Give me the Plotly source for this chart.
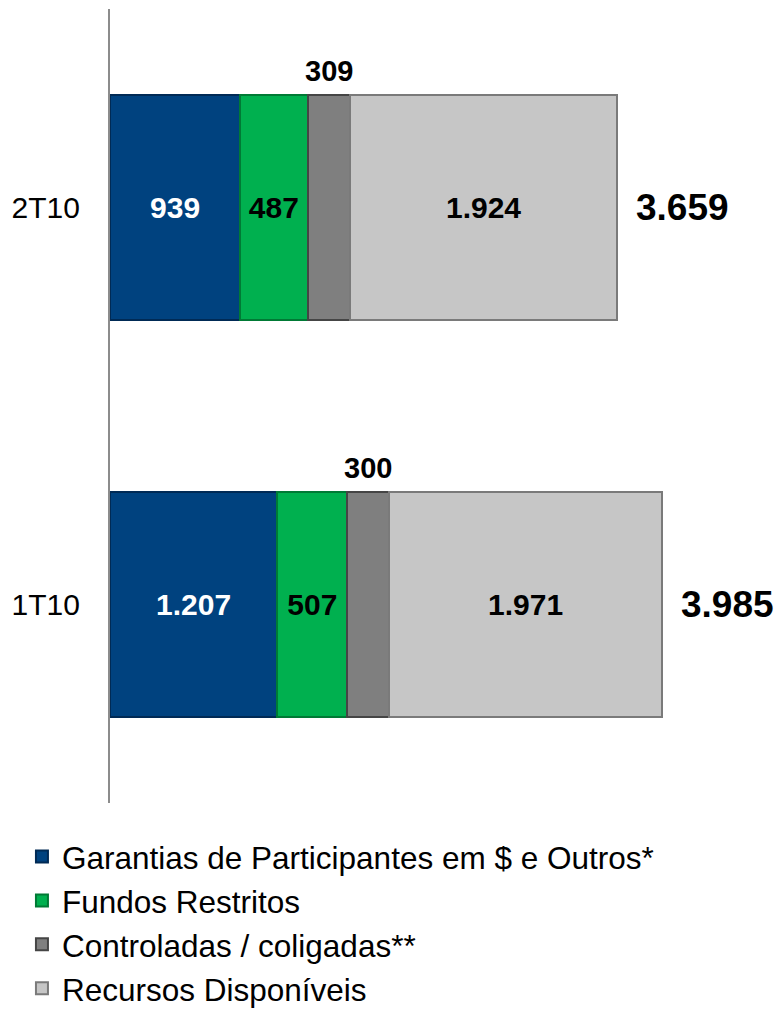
import plotly.graph_objects as go

categories = ["1T10", "2T10"]
series_names = ["Garantias de Participantes em $ e Outros*", "Fundos Restritos",
                "Controladas / coligadas**", "Recursos Disponíveis"]
garantias = [1207, 939]
fundos = [507, 487]
controladas = [300, 309]
recursos = [1971, 1924]
totals = [3985, 3659]

colors = ["#00427f", "#00b04f", "#7f7f7f", "#c6c6c6"]
line_colors = ["#002a55", "#007a35", "#454545", "#7a7a7a"]
text_colors = ["white", "black", "black", "black"]
show_text = [True, True, False, True]

FONT = "Liberation Sans, Arial, sans-serif"

fig = go.Figure()
for i, (name, vals) in enumerate(zip(series_names, [garantias, fundos, controladas, recursos])):
    fig.add_trace(go.Bar(
        y=categories, x=vals, name=name, orientation="h",
        marker=dict(color=colors[i], line=dict(color=line_colors[i], width=2)),
        texttemplate="%{x:,}" if show_text[i] else None,
        textposition="inside" if show_text[i] else "none",
        insidetextanchor="middle",
        textfont=dict(family=FONT, size=30, color=text_colors[i], weight="bold"),
        legendgroup=f"g{i}",
    ))

# labels above the Controladas segment
for cat, g, f, c in zip(categories, garantias, fundos, controladas):
    fig.add_annotation(x=g + f + c / 2, y=cat, text=f"{c:,}".replace(",", "."),
                       showarrow=False, yshift=137,
                       font=dict(family=FONT, size=29, color="black", weight="bold"))

# totals to the right of bars
for cat, t in zip(categories, totals):
    fig.add_annotation(x=t, y=cat, text=f"{t:,}".replace(",", "."), showarrow=False,
                       xanchor="left", xshift=17,
                       font=dict(family=FONT, size=37, color="black", weight="bold"))

fig.update_layout(
    barmode="stack",
    bargap=0.433,
    separators=",.",
    width=784, height=1014,
    margin=dict(l=110, r=9, t=9, b=211, autoexpand=False),
    plot_bgcolor="white", paper_bgcolor="white",
    showlegend=True,
    legend=dict(orientation="v", xref="container", yref="container",
                x=0.028, xanchor="left", y=0.182, yanchor="top",
                traceorder="grouped", tracegroupgap=0,
                font=dict(family=FONT, size=31.5, color="black"),
                bgcolor="rgba(0,0,0,0)"),
    xaxis=dict(range=[0, 4800], visible=False, fixedrange=True),
    yaxis=dict(range=[-0.5, 1.5], showline=True, linecolor="#8c8c8c", linewidth=2,
               ticks="", showgrid=False, ticklabelstandoff=22, automargin=False,
               fixedrange=True, tickfont=dict(family=FONT, size=30, color="black")),
)

fig.write_html("out.html", config={"displayModeBar": False},
               post_script="document.body.style.margin='0';document.body.style.overflow='hidden';")
